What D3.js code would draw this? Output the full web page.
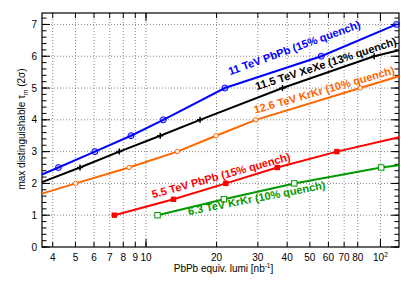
<!DOCTYPE html>
<html>
<head>
<meta charset="utf-8">
<script src="https://cdn.jsdelivr.net/npm/d3@7"></script>
<style>
  body { margin: 0; background: #fff; }
  svg { display: block; font-family: "Liberation Sans", Arial, sans-serif; }
</style>
</head>
<body>
<div id="chart"></div>
<script>
// values (lumi in nb^-1, tau = max distinguishable tau_m)
var pbpb11Lumi = [4.23, 6.05, 8.63, 11.85, 21.7, 55.9, 117];
var pbpb11Tau = [2.5, 3, 3.5, 4, 5, 6, 7];
var xexe115Lumi = [5.23, 7.69, 11.5, 17.0, 38.2, 94];
var xexe115Tau = [2.5, 3, 3.5, 4, 5, 6];
var krkr126Lumi = [5.01, 8.46, 13.6, 19.9, 29.4, 82];
var krkr126Tau = [2, 2.5, 3, 3.5, 4, 5];
var pbpb55Lumi = [7.33, 13.1, 21.9, 36.3, 65.2];
var pbpb55Tau = [1, 1.5, 2, 2.5, 3];
var krkr63Lumi = [11.2, 21.5, 42.9, 100.8];
var krkr63Tau = [1, 1.5, 2, 2.5];

// where the curves meet the frame edges (null = curve stops at its marker)
var leftEdgeTau = [2.28, 2.04, 1.68, null, null];
var rightEdgeTau = [null, 6.19, 5.37, 3.45, 2.57];

var seriesNames = ["11 TeV PbPb (15% quench)", "11.5 TeV XeXe (13% quench)",
  "12.6 TeV KrKr (10% quench)", "5.5 TeV PbPb (15% quench)", "6.3 TeV KrKr (10% quench)"];
var labelLumi = [22.8, 29.7, 29.2, 10.7, 15.2];
var labelTau = [5.40, 4.93, 4.19, 1.53, 1.0];
var labelAngle = [-20, -18, -16, -15.5, -11];

var xTickValues = [4, 5, 6, 7, 8, 9, 10, 20, 30, 40, 50, 60, 70, 80, 100];
var yTickValues = [0, 1, 2, 3, 4, 5, 6, 7];

var width = 415, height = 283;
var margin = { top: 13, right: 16, bottom: 36, left: 42 };
var plotW = width - margin.left - margin.right,
    plotH = height - margin.top - margin.bottom;

var colors = ["#0000ff", "#000000", "#ff6600", "#ff0000", "#009900"];
var markerKinds = ["opencircle", "plus", "smallcircle", "filledsquare", "opensquare"];

var svg = d3.select("#chart").append("svg")
    .attr("width", width)
    .attr("height", height);
var g = svg.append("g")
    .attr("transform", "translate(" + margin.left + "," + margin.top + ")");

var x = d3.scaleLog().domain([3.6, 120]).range([0, plotW]);
var y = d3.scaleLinear().domain([0, 7.36]).range([plotH, 0]);

// grid
g.append("g").selectAll("line").data(xTickValues).enter().append("line")
    .attr("x1", d => x(d)).attr("x2", d => x(d))
    .attr("y1", 0).attr("y2", plotH)
    .attr("stroke", "#888").attr("stroke-dasharray", "1,2");
g.append("g").selectAll("line").data(yTickValues.filter(d => d > 0)).enter().append("line")
    .attr("x1", 0).attr("x2", plotW)
    .attr("y1", d => y(d)).attr("y2", d => y(d))
    .attr("stroke", "#888").attr("stroke-dasharray", "1,2");

// axes: ticks point inward on all four sides
var yMinor = d3.range(0, 7.4, 0.2).filter(v => v <= 7.36);
function tickLines(sel, vals, len, side) {
  sel.selectAll(null).data(vals).enter().append("line")
    .attr("stroke", "#000")
    .attr("x1", d => side === "left" ? 0 : side === "right" ? plotW : x(d))
    .attr("x2", d => side === "left" ? len : side === "right" ? plotW - len : x(d))
    .attr("y1", d => side === "bottom" ? plotH : side === "top" ? 0 : y(d))
    .attr("y2", d => side === "bottom" ? plotH - len : side === "top" ? len : y(d));
}
var axes = g.append("g");
tickLines(axes, yMinor, 4.5, "left");
tickLines(axes, yTickValues, 8, "left");
tickLines(axes, yMinor, 4.5, "right");
tickLines(axes, yTickValues, 8, "right");
tickLines(axes, xTickValues, 5, "bottom");
tickLines(axes, [10, 100], 8, "bottom");
tickLines(axes, xTickValues, 5, "top");
tickLines(axes, [10, 100], 8, "top");

g.append("rect").attr("width", plotW).attr("height", plotH)
    .attr("fill", "none").attr("stroke", "#000").attr("stroke-width", 1.2);

// tick labels
g.append("g").selectAll("text").data(yTickValues).enter().append("text")
    .attr("x", -5).attr("y", d => y(d)).attr("dy", "0.35em")
    .attr("text-anchor", "end").attr("font-size", 10)
    .text(d => d);
var xl = g.append("g").selectAll("text").data(xTickValues).enter().append("text")
    .attr("x", d => x(d)).attr("y", plotH + 14)
    .attr("text-anchor", "middle").attr("font-size", 10);
xl.filter(d => d < 100).text(d => d);
xl.filter(d => d === 100).each(function() {
  var t = d3.select(this);
  t.append("tspan").text("10");
  t.append("tspan").attr("dy", -4).attr("font-size", 6.5).text("2");
});

// axis titles
var xt = g.append("text")
    .attr("x", plotW / 2 + 3).attr("y", plotH + 25)
    .attr("text-anchor", "middle").attr("font-size", 10);
xt.append("tspan").text("PbPb equiv. lumi [nb");
xt.append("tspan").attr("dy", -4).attr("font-size", 6.5).text("-1");
xt.append("tspan").attr("dy", 4).text("]");

var yt = svg.append("text")
    .attr("transform", "translate(25," + (margin.top + plotH / 2 - 1) + ") rotate(-90)")
    .attr("text-anchor", "middle").attr("font-size", 10);
yt.append("tspan").text("max distinguishable \u03c4");
yt.append("tspan").attr("dy", 2.5).attr("font-size", 6.5).text("m");
yt.append("tspan").attr("dy", -2.5).text(" (2\u03c3)");

// series
var lumis = [pbpb11Lumi, xexe115Lumi, krkr126Lumi, pbpb55Lumi, krkr63Lumi];
var taus = [pbpb11Tau, xexe115Tau, krkr126Tau, pbpb55Tau, krkr63Tau];
var [xMin, xMax] = x.domain();

var line = d3.line().x(d => x(d[0])).y(d => y(d[1]));

lumis.forEach(function(ls, i) {
  var pts = ls.map((l, j) => [l, taus[i][j]]);
  var path = pts.slice();
  if (leftEdgeTau[i] !== null) path.unshift([xMin, leftEdgeTau[i]]);
  if (rightEdgeTau[i] !== null) path.push([xMax, rightEdgeTau[i]]);

  g.append("path").datum(path)
    .attr("d", line)
    .attr("fill", "none")
    .attr("stroke", colors[i])
    .attr("stroke-width", 2);

  var m = g.append("g").selectAll("g").data(pts).enter().append("g")
    .attr("transform", d => "translate(" + x(d[0]) + "," + y(d[1]) + ")");
  var kind = markerKinds[i];
  if (kind === "opencircle") {
    m.append("circle").attr("r", 3).attr("fill", "rgba(0,0,255,0.25)")
      .attr("stroke", colors[i]).attr("stroke-width", 1);
  } else if (kind === "smallcircle") {
    m.append("circle").attr("r", 2.2).attr("fill", "#fff")
      .attr("stroke", colors[i]).attr("stroke-width", 1);
  } else if (kind === "plus") {
    m.append("path").attr("d", "M-3,0H3M0,-3V3")
      .attr("stroke", colors[i]).attr("stroke-width", 1.5);
  } else if (kind === "filledsquare") {
    m.append("rect").attr("x", -2.7).attr("y", -2.7).attr("width", 5.4).attr("height", 5.4)
      .attr("fill", colors[i]);
  } else {
    m.append("rect").attr("x", -2.7).attr("y", -2.7).attr("width", 5.4).attr("height", 5.4)
      .attr("fill", "#fff").attr("stroke", colors[i]).attr("stroke-width", 1);
  }

  g.append("text")
    .attr("transform", "translate(" + x(labelLumi[i]) + "," + y(labelTau[i]) + ") rotate(" + labelAngle[i] + ")")
    .attr("font-size", 11).attr("font-weight", "bold")
    .attr("fill", colors[i])
    .text(seriesNames[i]);
});
</script>
</body>
</html>
